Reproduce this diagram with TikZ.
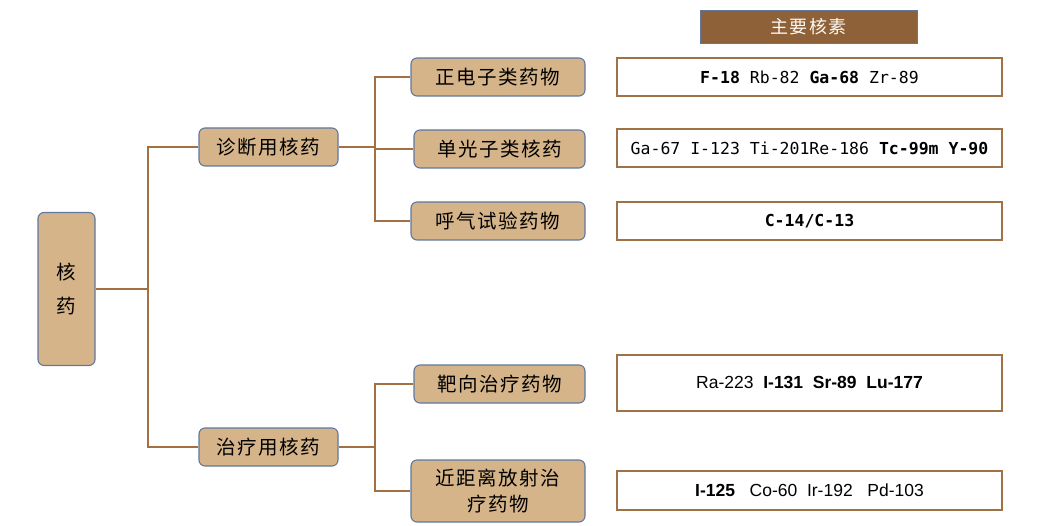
\documentclass[tikz,border=0pt]{standalone}
\usepackage{fontspec}
\newfontfamily\cjk{Noto Sans CJK SC}
\newfontfamily\cjksp[LetterSpace=8]{Noto Sans CJK SC}
\newfontfamily\monofnt{DejaVu Sans Mono}
\newfontfamily\arialfnt{Liberation Sans}
\definecolor{tan}{RGB}{213,180,138}
\definecolor{edgeblue}{RGB}{96,120,160}
\definecolor{linebrown}{RGB}{163,112,66}
\definecolor{headbrown}{RGB}{142,97,56}
\definecolor{boxbrown}{RGB}{160,114,72}
\tikzset{
  catbox/.style={draw=edgeblue, line width=1.1pt, fill=tan, rounded corners=6pt, inner sep=0pt, align=center, font=\cjksp\fontsize{19.5}{26}\selectfont},
  listbox/.style={draw=boxbrown, line width=2pt, fill=white, inner sep=0pt, minimum width=385pt},
  conn/.style={draw=linebrown, line width=1.4pt},
}
\begin{document}
\begin{tikzpicture}[x=1pt,y=-1pt]
\useasboundingbox (0,0) rectangle (1043,526);
% left tree
\node[catbox, minimum width=57pt, minimum height=153pt] (root) at (66.5,289) {核\\[8pt]药};
\node[catbox, minimum width=139pt, minimum height=38pt] (diag) at (268.5,147) {诊断用核药};
\node[catbox, minimum width=139pt, minimum height=38pt] (treat) at (268.5,447) {治疗用核药};
\node[catbox, minimum width=174pt, minimum height=38pt] (pet) at (498,77) {正电子类药物};
\node[catbox, minimum width=171pt, minimum height=38pt] (spect) at (499.5,149) {单光子类核药};
\node[catbox, minimum width=174pt, minimum height=38pt] (breath) at (498,221) {呼气试验药物};
\node[catbox, minimum width=171pt, minimum height=38pt] (target) at (499.5,384) {靶向治疗药物};
\node[catbox, minimum width=174pt, minimum height=62pt] (brachy) at (498,491) {近距离放射治\\疗药物};
% connectors
\coordinate (t1) at (148,289);
\coordinate (t2) at (375,147);
\coordinate (t3) at (375,447);
\draw[conn] (root.east) -- (t1);
\draw[conn] (t1) |- (diag.west);
\draw[conn] (t1) |- (treat.west);
\draw[conn] (diag.east) -- (t2);
\draw[conn] (t2) |- (pet.west);
\draw[conn] (t2) |- (spect.west);
\draw[conn] (t2) |- (breath.west);
\draw[conn] (treat.east) -- (t3);
\draw[conn] (t3) |- (target.west);
\draw[conn] (t3) |- (brachy.west);
% right column
\node[draw=edgeblue, line width=0.8pt, fill=headbrown, minimum width=217pt, minimum height=33pt, inner sep=0pt, text=white!92!tan, font=\cjksp\fontsize{18}{20}\selectfont] (head) at (808.5,26.5) {主要核素};
\node[listbox, minimum height=38pt, font=\monofnt\fontsize{16.5}{20}\selectfont] (l1) at (809.5,77) {\textbf{F-18} Rb-82 \textbf{Ga-68} Zr-89};
\node[listbox, minimum height=38pt, font=\monofnt\fontsize{16.5}{20}\selectfont] (l2) at (809.5,148.5) {Ga-67 I-123 Ti-201Re-186 \textbf{Tc-99m} \textbf{Y-90}};
\node[listbox, minimum height=38pt, font=\monofnt\fontsize{16.5}{20}\selectfont] (l3) at (809.5,221) {\textbf{C-14/C-13}};
\node[listbox, minimum height=56pt, font=\arialfnt\fontsize{17.5}{20}\selectfont] (l4) at (809.5,382.5) {Ra-223\ \ \textbf{I-131}\ \ \textbf{Sr-89}\ \ \textbf{Lu-177}};
\node[listbox, minimum height=39pt, font=\arialfnt\fontsize{17.5}{20}\selectfont] (l5) at (809.5,490.5) {\textbf{I-125}\ \ \ Co-60\ \ Ir-192\ \ \ Pd-103};
\end{tikzpicture}
\end{document}
